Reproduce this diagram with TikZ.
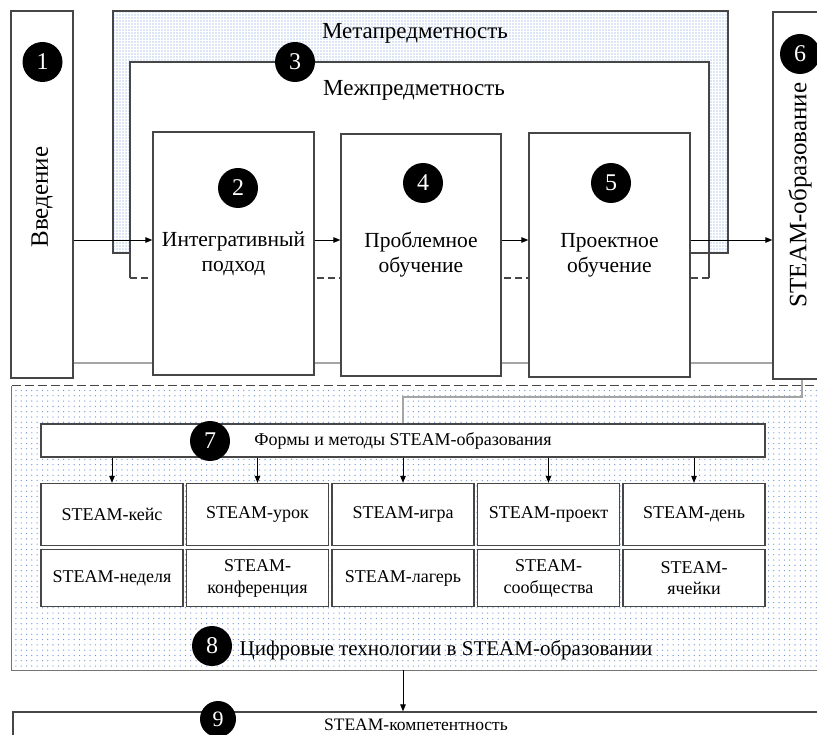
\documentclass[tikz,border=0pt]{standalone}
\usepackage{fontspec}
\setmainfont{Liberation Serif}
\usepackage{xcolor}
\definecolor{frameline}{RGB}{70,70,70}
\definecolor{railgray}{RGB}{165,165,165}
\definecolor{dotblue}{RGB}{110,145,215}
\usetikzlibrary{arrows.meta, positioning, patterns.meta, calc}

\tikzdeclarepattern{
  name=finedots,
  type=uncolored,
  bottom left={(-.6pt,-.6pt)},
  top right={(.6pt,.6pt)},
  tile size={(3pt,3pt)},
  code={\fill (0pt,0pt) circle (.55pt);}
}
\tikzdeclarepattern{
  name=sparsedots,
  type=uncolored,
  bottom left={(-.7pt,-.7pt)},
  top right={(.7pt,.7pt)},
  tile size={(5.3pt,5.3pt)},
  code={\fill (0pt,0pt) circle (.65pt);}
}

\begin{document}
\begin{tikzpicture}[x=1pt, y=-1pt,
  box/.style={draw=frameline, line width=1.3pt, fill=white, inner sep=0pt, align=center},
  num/.style={circle, fill=black, text=white, inner sep=0pt, minimum size=40pt, font=\fontsize{24}{24}\selectfont},
  arr/.style={line width=0.9pt, -{Triangle[length=7pt,width=5.5pt]}},
  rail/.style={draw=railgray, line width=1.3pt},
  edge/.style={draw=frameline, line width=1.3pt},
  bigtxt/.style={font=\fontsize{21.5}{25}\selectfont},
  itemtxt/.style={font=\fontsize{18}{21.5}\selectfont}]

  \useasboundingbox (0,0) rectangle (817,735);
  \clip (0,0) rectangle (817,735);

  % Metapredmetnost frame (dotted)
  \draw[edge, pattern=finedots, pattern color=dotblue]
       (113,11) -- (728,11) -- (728,253) -- (709,253) -- (709,62)
       -- (130,62) -- (130,253) -- (113,253) -- cycle;
  \draw[edge] (690,253) -- (709,253);
  \node[font=\fontsize{23}{23}\selectfont] (metatxt) at (415,33) {Метапредметность};

  % Mezhpredmetnost frame
  \draw[edge] (130,253) -- (130,278);
  \draw[edge] (709,253) -- (709,278);
  \draw[edge, dash pattern=on 7pt off 4pt] (130,278) -- (709,278);
  \node[font=\fontsize{23}{23}\selectfont] (mezhtxt) at (414,90) {Межпредметность};

  % --- Upper row of blocks ---
  \node[box, minimum width=62pt, minimum height=367pt] (intro) at (42,194.5) {};
  \node[rotate=90, font=\fontsize{25}{25}\selectfont] (introtxt) at (42,197) {Введение};
  \node[box, bigtxt, minimum width=161pt, minimum height=243pt] (integr) at (233.5,253.5) {Интегративный\\подход};
  \node[box, bigtxt, minimum width=160pt, minimum height=242pt] (problem) at (421,255) {Проблемное\\обучение};
  \node[box, bigtxt, minimum width=161pt, minimum height=244pt] (project) at (609.5,255) {Проектное\\обучение};
  \node[box, minimum width=54pt, minimum height=367pt] (steam) at (800,195.5) {};
  \node[rotate=90, font=\fontsize{25}{25}\selectfont] (steamtxt) at (800,195) {STEAM-образование};

  % flow arrows and lower rail
  \coordinate (flow) at (0,240);
  \coordinate (low) at (0,363);
  \draw[arr] (intro.east |- flow) -- (integr.west |- flow);
  \draw[arr] (integr.east |- flow) -- (problem.west |- flow);
  \draw[arr] (problem.east |- flow) -- (project.west |- flow);
  \draw[arr] (project.east |- flow) -- (steam.west |- flow);
  \draw[rail] (intro.east |- low) -- (integr.west |- low);
  \draw[rail] (integr.east |- low) -- (problem.west |- low);
  \draw[rail] (problem.east |- low) -- (project.west |- low);
  \draw[rail] (project.east |- low) -- (steam.west |- low);

  % --- Digital technologies area ---
  \node[minimum width=807pt, minimum height=284pt, inner sep=0pt,
        pattern=sparsedots, pattern color=dotblue] (digital) at (415.5,528) {};
  \draw[edge, dash pattern=on 9pt off 4pt] (digital.north west) -- (digital.north east);
  \draw[edge, draw=frameline!75] (digital.north west) -- (digital.south west) -- (digital.south east);

  % Forms and methods
  \node[box, minimum width=724pt, minimum height=33pt, font=\fontsize{18}{18}\selectfont] (forms) at (403,440.5)
       {Формы и методы STEAM-образования};
  \coordinate (turn) at (802,397);
  \draw[rail] (steam.south -| turn) -- (turn) -- (forms.north |- turn) -- (forms.north);

  % first row of forms
  \node[box, itemtxt, minimum width=142pt, minimum height=62pt] (up1) at (112,514.5) {STEAM-кейс};
  \node[box, itemtxt, minimum width=142pt, minimum height=62pt] (up2) at (257.5,514.5) {STEAM-урок};
  \node[box, itemtxt, minimum width=142pt, minimum height=62pt] (up3) at (403,514.5) {STEAM-игра};
  \node[box, itemtxt, minimum width=142pt, minimum height=62pt] (up4) at (548.5,514.5) {STEAM-проект};
  \node[box, itemtxt, minimum width=142pt, minimum height=62pt] (up5) at (694,514.5) {STEAM-день};
  % second row of forms
  \node[box, itemtxt, minimum width=142pt, minimum height=57pt] (dn1) at (112,578.3) {STEAM-неделя};
  \node[box, itemtxt, minimum width=142pt, minimum height=57pt] (dn2) at (257.5,578.3) {STEAM-\\конференция};
  \node[box, itemtxt, minimum width=142pt, minimum height=57pt] (dn3) at (403,578.3) {STEAM-лагерь};
  \node[box, itemtxt, minimum width=142pt, minimum height=57pt] (dn4) at (548.5,578.3) {STEAM-\\сообщества};
  \node[box, itemtxt, minimum width=142pt, minimum height=57pt] (dn5) at (694,578.3) {STEAM-\\ячейки};

  \draw[arr] (forms.south -| up1.north) -- (up1.north);
  \draw[arr] (forms.south -| up2.north) -- (up2.north);
  \draw[arr] (forms.south -| up3.north) -- (up3.north);
  \draw[arr] (forms.south -| up4.north) -- (up4.north);
  \draw[arr] (forms.south -| up5.north) -- (up5.north);

  \node[font=\fontsize{21}{21}\selectfont] (digitaltxt) at (446,650) {Цифровые технологии в STEAM-образовании};

  % --- Competence ---
  \node[box, minimum width=806pt, minimum height=60pt] (comp) at (416,742) {};
  \node[font=\fontsize{17.5}{17.5}\selectfont] (comptxt) at (416,725) {STEAM-компетентность};
  \draw[arr] (forms.center |- digital.south) -- (forms.center |- comp.north);

  % Numbered markers
  \node[num] (n1) at (42.5,62) {1};
  \node[num] (n2) at (238,188) {2};
  \node[num] (n3) at (295,62) {3};
  \node[num] (n4) at (423,183) {4};
  \node[num] (n5) at (611,183) {5};
  \node[num] (n6) at (800,54) {6};
  \node[num] (n7) at (210,441) {7};
  \node[num] (n8) at (212,646) {8};
  \node[num, minimum size=36pt, font=\fontsize{22}{22}\selectfont] (n9) at (218,719) {9};
\end{tikzpicture}
\end{document}
